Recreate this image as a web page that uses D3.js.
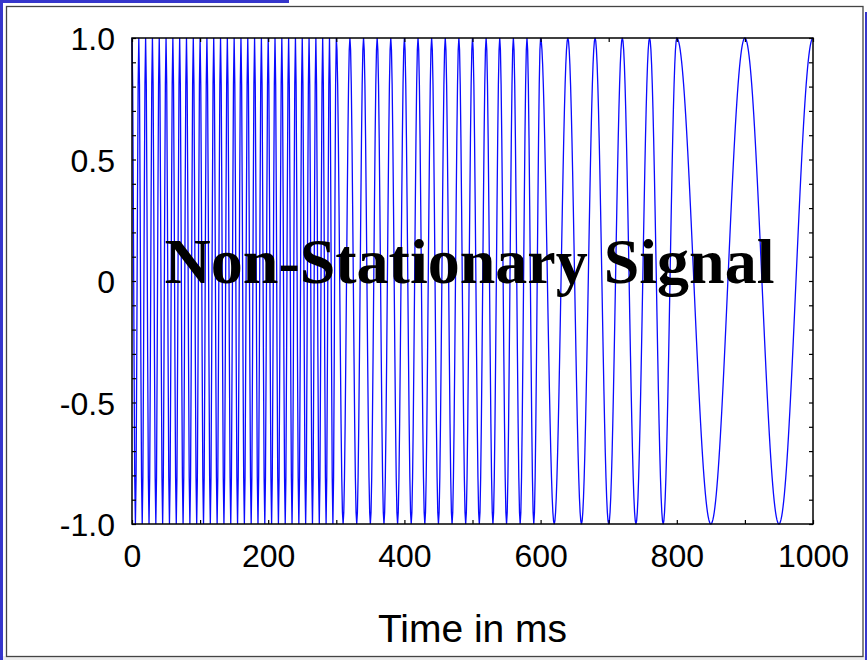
<!DOCTYPE html>
<html>
<head>
<meta charset="utf-8">
<script src="https://cdn.jsdelivr.net/npm/d3@7"></script>
<style>
  body { margin: 0; background: #fff; }
  svg { display: block; }
  .tick-label { font-family: "Liberation Sans", Arial, sans-serif; font-size: 32px; fill: #000; }
</style>
</head>
<body>
<div id="chart"></div>
<script>
// signal segments: each piece of the time axis has its own frequency
const segmentStartMs = [0, 300, 600, 800];
const segmentEndMs = [300, 600, 800, 1000];
const segmentFreqHz = [100, 50, 25, 10];
const sampleRateHz = 1000;

const xLabelTicks = [0, 200, 400, 600, 800, 1000];
const xLabels = ["0", "200", "400", "600", "800", "1000"];
const yLabelTicks = [-1, -0.5, 0, 0.5, 1];
const yLabels = ["-1.0", "-0.5", "0", "0.5", "1.0"];

const titleText = "Non-Stationary Signal";
const xAxisTitle = "Time in ms";

const W = 867, H = 660;
const plot = { left: 132, right: 813, top: 38, bottom: 524 };

const svg = d3.select("#chart").append("svg").attr("width", W).attr("height", H);

// slide frame around the figure
svg.append("rect").attr("x", 0).attr("y", 656).attr("width", W).attr("height", 4).attr("fill", "#ececec");
svg.append("rect").attr("x", 6.5).attr("y", 6.5).attr("width", 856.5).attr("height", 650)
  .attr("fill", "none").attr("stroke", "#444").attr("stroke-width", 1.3);
svg.append("rect").attr("x", 0).attr("y", 0).attr("width", 289).attr("height", 3).attr("fill", "#3636cc");
svg.append("rect").attr("x", 0).attr("y", 0).attr("width", 3).attr("height", H).attr("fill", "#3636cc");
svg.append("rect").attr("x", 865).attr("y", 12).attr("width", 2).attr("height", H - 12).attr("fill", "#3636cc");

const x = d3.scaleLinear().domain([0, 1000]).range([plot.left, plot.right]);
const y = d3.scaleLinear().domain([-1, 1]).range([plot.bottom, plot.top]);

// build samples for every segment
const samples = [];
segmentStartMs.forEach((start, i) => {
  const end = segmentEndMs[i];
  const f = segmentFreqHz[i];
  const step = 1000 / sampleRateHz;
  for (let t = start; t <= end; t += step) {
    if (i > 0 && t === start) continue;
    samples.push({ t: t, v: Math.cos(2 * Math.PI * f * t / 1000) });
  }
});

const line = d3.line().x(d => x(d.t)).y(d => y(d.v));

svg.append("path")
  .datum(samples)
  .attr("d", line)
  .attr("fill", "none")
  .attr("stroke", "#0a0aff")
  .attr("stroke-width", 1.3);

// minor ticks on all four sides, inward
const yMinor = d3.range(-10, 11).map(k => k / 10);
const xMinor = d3.range(0, 11).map(k => k * 100);

function tickAxis(axis, ticks, transform) {
  svg.append("g")
    .attr("transform", transform)
    .call(axis.tickValues(ticks).tickSizeInner(-4).tickSizeOuter(0).tickFormat(""))
    .call(g => g.select(".domain").remove())
    .call(g => g.selectAll("line").attr("stroke", "#000").attr("stroke-width", 1.2));
}
tickAxis(d3.axisLeft(y), yMinor, `translate(${plot.left},0)`);
tickAxis(d3.axisRight(y), yMinor, `translate(${plot.right},0)`);
tickAxis(d3.axisBottom(x), xMinor, `translate(0,${plot.bottom})`);
tickAxis(d3.axisTop(x), xMinor, `translate(0,${plot.top})`);

// labelled axes
svg.append("g")
  .attr("transform", `translate(${plot.left},0)`)
  .call(d3.axisLeft(y).tickValues(yLabelTicks).tickSize(0).tickPadding(17)
    .tickFormat((d, i) => yLabels[i]))
  .call(g => g.select(".domain").remove())
  .call(g => g.selectAll("text").attr("class", "tick-label").attr("dy", "0.36em"));

svg.append("g")
  .attr("transform", `translate(0,${plot.bottom})`)
  .call(d3.axisBottom(x).tickValues(xLabelTicks).tickSize(0).tickPadding(20)
    .tickFormat((d, i) => xLabels[i]))
  .call(g => g.select(".domain").remove())
  .call(g => g.selectAll("text").attr("class", "tick-label").attr("dy", "0.71em"));

// plot box
svg.append("rect")
  .attr("x", plot.left).attr("y", plot.top)
  .attr("width", plot.right - plot.left).attr("height", plot.bottom - plot.top)
  .attr("fill", "none").attr("stroke", "#000").attr("stroke-width", 1.5);

svg.append("text")
  .attr("x", x(500))
  .attr("y", 642)
  .attr("text-anchor", "middle")
  .attr("font-family", "Liberation Sans, Arial, sans-serif")
  .attr("font-size", 39)
  .text(xAxisTitle);

svg.append("text")
  .attr("x", x(500) - 3)
  .attr("y", y(0) + 2)
  .attr("text-anchor", "middle")
  .attr("font-family", "Liberation Serif, Times New Roman, serif")
  .attr("font-weight", "bold")
  .attr("font-size", 64)
  .text(titleText);
</script>
</body>
</html>
